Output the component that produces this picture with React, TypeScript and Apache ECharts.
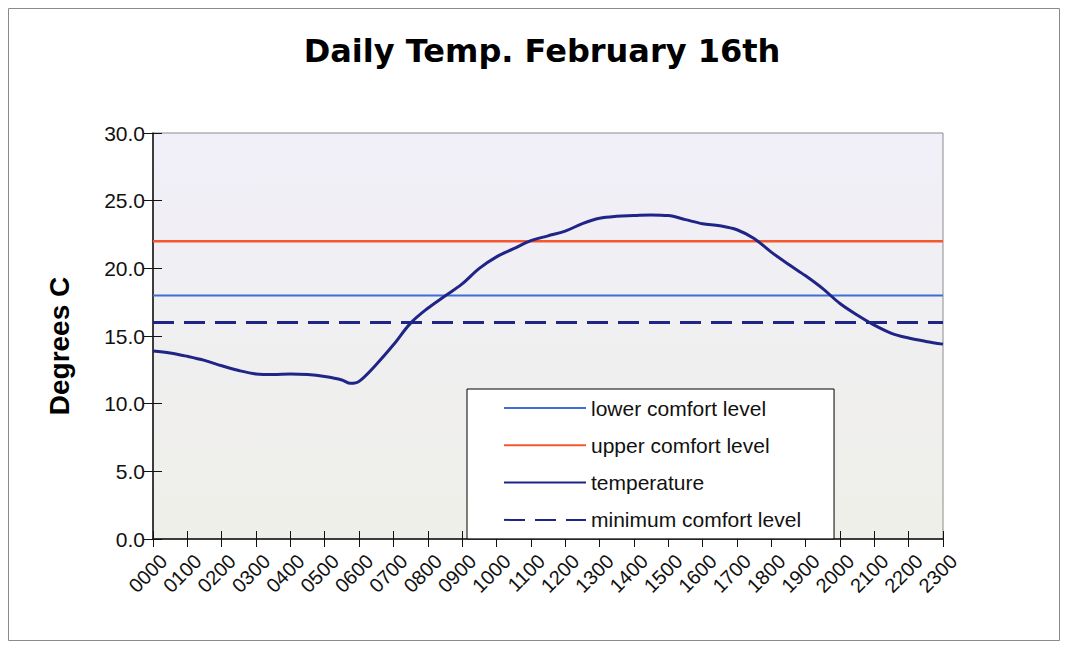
import React, { useEffect, useRef } from "react";
import * as echarts from "echarts";

const titleText = "Daily Temp. February 16th";
const yAxisName = "Degrees C";
const hourLabels = [
  "0000", "0100", "0200", "0300", "0400", "0500", "0600", "0700",
  "0800", "0900", "1000", "1100", "1200", "1300", "1400", "1500",
  "1600", "1700", "1800", "1900", "2000", "2100", "2200", "2300",
];
// time of each reading, in hours
const hours = [
  0, 0.5, 1, 1.5, 2, 2.5, 3, 3.5, 4, 4.5, 5, 5.5, 5.75, 6, 6.5, 7, 7.5, 8,
  8.5, 9, 9.5, 10, 10.5, 11, 11.5, 12, 12.5, 13, 13.5, 14, 14.5, 15, 15.5,
  16, 16.5, 17, 17.5, 18, 18.5, 19, 19.5, 20, 20.5, 21, 21.5, 22, 22.5, 23,
];
const temperature = [
  13.9, 13.75, 13.5, 13.2, 12.8, 12.45, 12.2, 12.15, 12.2, 12.15, 12.0, 11.75,
  11.5, 11.65, 12.9, 14.35, 15.95, 17.05, 17.95, 18.85, 20.0, 20.85, 21.45,
  22.05, 22.4, 22.75, 23.3, 23.7, 23.85, 23.9, 23.95, 23.9, 23.6, 23.3, 23.15,
  22.85, 22.2, 21.2, 20.3, 19.45, 18.5, 17.4, 16.55, 15.8, 15.2, 14.85, 14.6,
  14.4,
];
const lowerComfort = 18;
const upperComfort = 22;
const minimumComfort = 16;
const seriesNames = [
  "lower comfort level",
  "upper comfort level",
  "temperature",
  "minimum comfort level",
];
const dayStart = 0;
const dayEnd = 23;

export default function App() {
  const ref = useRef<HTMLDivElement>(null);
  useEffect(() => {
    if (!ref.current) return;
    const chart = echarts.init(ref.current, undefined, { renderer: "svg" });
    const flat = (v: number) => [
      [dayStart, v],
      [dayEnd, v],
    ];
    const font = "'Liberation Sans', Arial, sans-serif";
    const yBase: any = {
      type: "value",
      min: 0,
      max: 30,
      interval: 5,
      position: "left",
      splitLine: { show: false },
    };
    chart.setOption({
      animation: false,
      backgroundColor: "#ffffff",
      title: {
        text: titleText,
        left: 537,
        top: 30,
        textAlign: "center",
        textStyle: {
          fontFamily: "'DejaVu Sans', Verdana, sans-serif",
          fontWeight: "bold",
          fontSize: 32,
          color: "#000",
        },
      },
      graphic: [
        {
          type: "rect",
          shape: { x: 8.5, y: 8.5, width: 1051, height: 632 },
          style: { fill: "none", stroke: "#8a8a8a", lineWidth: 1 },
          silent: true,
          z: -10,
        },
      ],
      grid: {
        left: 153,
        top: 133,
        right: 125,
        bottom: 110,
        show: true,
        borderColor: "#8c8c8c",
        borderWidth: 1,
        backgroundColor: new echarts.graphic.LinearGradient(0, 0, 0, 1, [
          { offset: 0, color: "#f1eff8" },
          { offset: 1, color: "#efefe9" },
        ]),
      },
      legend: {
        orient: "vertical",
        left: 467,
        top: 389,
        padding: [8.5, 33, 8.5, 36],
        itemWidth: 82,
        itemHeight: 21,
        itemGap: 16.3,
        backgroundColor: "#ffffff",
        borderColor: "#000000",
        borderWidth: 1,
        borderRadius: 0,
        itemStyle: { opacity: 0 },
        data: seriesNames,
        textStyle: { fontFamily: font, fontSize: 21, color: "#111" },
      },
      xAxis: [
        {
          type: "category",
          data: hourLabels,
          boundaryGap: false,
          position: "bottom",
          splitLine: { show: false },
          axisLine: { show: true, lineStyle: { color: "#111", width: 1.5 } },
          axisTick: {
            show: true,
            interval: 0,
            length: 8,
            lineStyle: { color: "#111" },
          },
          axisLabel: {
            interval: 0,
            rotate: 45,
            margin: 8,
            verticalAlign: "top",
            lineHeight: 30,
            fontFamily: font,
            fontSize: 20,
            color: "#111",
          },
        },
        {
          type: "value",
          min: dayStart,
          max: dayEnd,
          interval: 1,
          position: "bottom",
          splitLine: { show: false },
          axisLine: { show: false },
          axisTick: { show: true, inside: true, length: 8, lineStyle: { color: "#111" } },
          axisLabel: { show: false },
        },
      ],
      yAxis: [
        {
          ...yBase,
          name: yAxisName,
          nameLocation: "middle",
          nameGap: 80,
          nameTextStyle: {
            fontFamily: font,
            fontWeight: "bold",
            fontSize: 28,
            color: "#000",
            padding: [0, 20, 0, 0],
          },
          axisLine: { show: true, lineStyle: { color: "#111", width: 1.5 } },
          axisTick: { show: true, length: 9, lineStyle: { color: "#111" } },
          axisLabel: {
            margin: 8,
            fontFamily: font,
            fontSize: 21,
            color: "#111",
            formatter: (v: number) => v.toFixed(1),
          },
        },
        {
          ...yBase,
          axisLine: { show: false },
          axisTick: { show: true, inside: true, length: 9, lineStyle: { color: "#111" } },
          axisLabel: { show: false },
        },
      ],
      series: [
        {
          name: seriesNames[0],
          type: "line",
          xAxisIndex: 1,
          symbol: "none",
          data: flat(lowerComfort),
          lineStyle: { color: "#3c6fd6", width: 2 },
          itemStyle: { color: "#3c6fd6" },
          z: 2,
        },
        {
          name: seriesNames[1],
          type: "line",
          xAxisIndex: 1,
          symbol: "none",
          data: flat(upperComfort),
          lineStyle: { color: "#f5572f", width: 2.6 },
          itemStyle: { color: "#f5572f" },
          z: 2,
        },
        {
          name: seriesNames[2],
          type: "line",
          xAxisIndex: 1,
          symbol: "none",
          smooth: 0.35,
          data: hours.map((h, i) => [h, temperature[i]]),
          lineStyle: { color: "#1f2487", width: 3 },
          itemStyle: { color: "#1f2487" },
          z: 4,
        },
        {
          name: seriesNames[3],
          type: "line",
          xAxisIndex: 1,
          symbol: "none",
          data: flat(minimumComfort),
          lineStyle: { color: "#1f2487", width: 3, type: [21, 10] },
          itemStyle: { color: "#1f2487" },
          z: 3,
        },
      ],
    });
    return () => chart.dispose();
  }, []);
  return (
    <div
      ref={ref}
      style={{ position: "fixed", left: 0, top: 0, width: 1068, height: 649 }}
    />
  );
}
